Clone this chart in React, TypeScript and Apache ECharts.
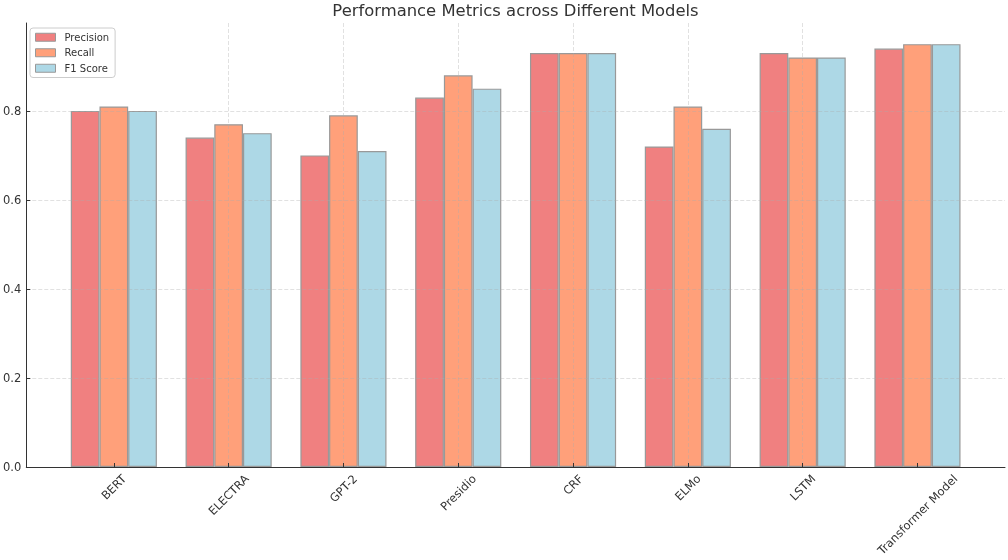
import React, { useEffect, useRef } from "react";
import * as echarts from "echarts";

const categories = ["BERT", "ELECTRA", "GPT-2", "Presidio", "CRF", "ELMo", "LSTM", "Transformer Model"];
const precision = [0.8, 0.74, 0.7, 0.83, 0.93, 0.72, 0.93, 0.94];
const recall = [0.81, 0.77, 0.79, 0.88, 0.93, 0.81, 0.92, 0.95];
const f1Score = [0.8, 0.75, 0.71, 0.85, 0.93, 0.76, 0.92, 0.95];
const yTicks = [0, 0.2, 0.4, 0.6, 0.8];
const seriesNames = ["Precision", "Recall", "F1 Score"];
const seriesValues = [precision, recall, f1Score];
const colors = ["#F08080", "#FFA07A", "#ADD8E6"];
const titleText = "Performance Metrics across Different Models";

export default function App() {
  const ref = useRef<HTMLDivElement>(null);
  useEffect(() => {
    document.body.style.margin = "0";
    const chart = echarts.init(ref.current!, null, { renderer: "svg" });
    const W = 1008;
    const gridLeft = 26, gridRight = 3, gridTop = 23, gridBottom = 93;
    const pad = 0.7625;
    const xMin = -pad;
    const xMax = categories.length - 1 + pad;
    const plotW = W - gridLeft - gridRight;
    const unit = plotW / (xMax - xMin);
    const barW = unit * 0.25;
    const labelFont = 11.5;
    const titleFont = 16.4;
    const font = "DejaVu Sans";
    const ctx = document.createElement("canvas").getContext("2d")!;
    ctx.font = `${titleFont}px "${font}"`;
    const titleW = ctx.measureText(titleText).width;
    const titleLeft = gridLeft + plotW / 2 - titleW / 2;
    ctx.font = `${labelFont}px "${font}"`;
    const rich: any = {};
    categories.forEach((c, i) => {
      const L = ctx.measureText(c).width;
      const h = labelFont * 1.16;
      const D = (L + h) * Math.SQRT1_2;
      const d = 5 + D / 2;
      const p = d * Math.SQRT2;
      rich["l" + i] = { fontSize: labelFont, fontFamily: font, color: "#333", padding: [p, p, 0, 0] };
    });
    const catIdx = categories.map((_, i) => i);
    const gridLine = { color: "rgba(170,170,170,0.45)", width: 0.8, type: [4, 2] as any };

    chart.setOption({
      animation: false,
      title: {
        text: titleText,
        left: titleLeft,
        top: 0,
        padding: [2, 0, 0, 0],
        textStyle: { fontSize: titleFont, fontWeight: "normal", color: "#333", fontFamily: font },
      },
      legend: {
        data: seriesNames,
        orient: "vertical",
        left: 30,
        top: 28,
        itemWidth: 20,
        itemHeight: 8,
        itemGap: 3,
        icon: "rect",
        padding: [3, 6, 3, 5],
        backgroundColor: "rgba(255,255,255,0.85)",
        borderColor: "#ccc",
        borderWidth: 1,
        borderRadius: 3,
        z: 10,
        textStyle: { fontSize: 10, fontFamily: font, color: "#333", lineHeight: 12.5, padding: [0, 0, 0, 4] },
        itemStyle: { borderColor: "#999", borderWidth: 1 },
      },
      grid: { left: gridLeft, right: gridRight, top: gridTop, bottom: gridBottom, containLabel: false },
      xAxis: {
        type: "value",
        min: xMin,
        max: xMax,
        splitNumber: 8,
        z: 3,
        axisLine: { show: true, onZero: false, lineStyle: { color: "#333", width: 1 } },
        axisTick: { show: true, inside: true, length: 4, customValues: catIdx, lineStyle: { color: "#333" } },
        axisLabel: {
          customValues: catIdx,
          formatter: (v: number) => {
            const i = Math.round(v);
            return `{l${i}|${categories[i]}}`;
          },
          rotate: 45,
          align: "center",
          verticalAlign: "middle",
          margin: 0,
          fontSize: labelFont,
          fontFamily: font,
          color: "#333",
          rich,
        },
        splitLine: { show: true, customValues: catIdx, showMinLine: false, showMaxLine: false, lineStyle: gridLine },
      },
      yAxis: {
        type: "value",
        min: 0,
        max: 0.9975,
        interval: 0.2,
        z: 3,
        axisLine: { show: true, onZero: false, lineStyle: { color: "#333", width: 1 } },
        axisTick: { show: true, inside: true, length: 4, customValues: yTicks, lineStyle: { color: "#333" } },
        axisLabel: {
          customValues: yTicks,
          formatter: (v: number) => v.toFixed(1),
          fontSize: labelFont,
          fontFamily: font,
          color: "#333",
          margin: 5,
        },
        splitLine: { show: true, customValues: yTicks, lineStyle: gridLine },
      },
      series: seriesNames.map((name, s) => ({
        name,
        type: "bar",
        barWidth: barW,
        barGap: "0%",
        data: seriesValues[s].map((v, i) => [i, v]),
        itemStyle: { color: colors[s], borderColor: "#999", borderWidth: 1.2 },
      })),
    });
    return () => chart.dispose();
  }, []);
  return <div ref={ref} style={{ position: "fixed", left: 0, top: 0, width: 1008, height: 560 }} />;
}
